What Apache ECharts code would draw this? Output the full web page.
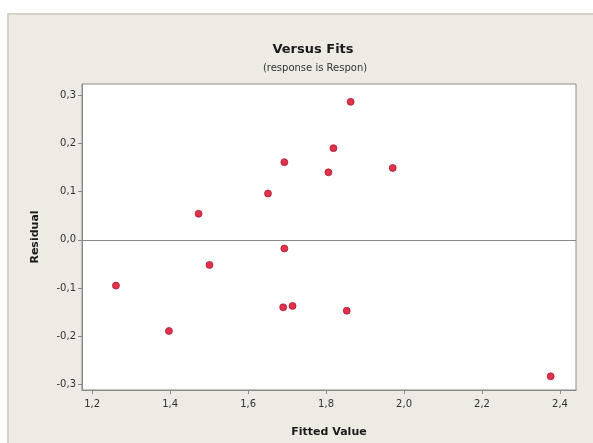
<!DOCTYPE html>
<html>
<head>
<meta charset="utf-8">
<script src="https://cdn.jsdelivr.net/npm/echarts@6/dist/echarts.min.js"></script>
<style>html,body{margin:0;padding:0;background:#fff}#c{width:593px;height:443px}</style>
</head>
<body>
<div id="c"></div>
<script>
// Data (fitted value, residual)
var fittedValues = [1.261, 1.397, 1.473, 1.501, 1.651, 1.693, 1.693, 1.690, 1.714, 1.806, 1.819, 1.863, 1.853, 1.971, 2.376];
var residuals    = [-0.095, -0.189, 0.054, -0.052, 0.096, 0.161, -0.018, -0.140, -0.137, 0.140, 0.190, 0.286, -0.147, 0.149, -0.283];
var xTicks = [1.2, 1.4, 1.6, 1.8, 2.0, 2.2, 2.4];
var yTicks = [-0.3, -0.2, -0.1, 0.0, 0.1, 0.2, 0.3];

var points = fittedValues.map(function (x, i) { return [x, residuals[i]]; });
function fmt(v) { return v.toFixed(1).replace('.', ','); }
var FONT = 'DejaVu Sans';

var chart = echarts.init(document.getElementById('c'), null, { renderer: 'canvas' });
chart.setOption({
  backgroundColor: '#ffffff',
  animation: false,
  graphic: [
    { type: 'rect', z: -10, silent: true, shape: { x: 8, y: 14, width: 600, height: 440 },
      style: { fill: '#EEEBE4', stroke: '#D6D2C9', lineWidth: 2 } }
  ],
  title: [
    { text: 'Versus Fits', left: 308, top: 38, textAlign: 'center',
      textStyle: { fontFamily: FONT, fontSize: 13, fontWeight: 'bold', color: '#1a1a1a' } },
    { text: '(response is Respon)', left: 310, top: 58, textAlign: 'center',
      textStyle: { fontFamily: FONT, fontSize: 10, fontWeight: 'normal', color: '#333' } }
  ],
  grid: { left: 82, right: 17, top: 84, bottom: 53, show: true, backgroundColor: '#ffffff', borderColor: '#8a8a8a', borderWidth: 1 },
  xAxis: {
    type: 'value', min: 1.174, max: 2.441,
    name: 'Fitted Value', nameLocation: 'middle', nameGap: 37,
    nameTextStyle: { fontFamily: FONT, fontSize: 11, fontWeight: 'bold', color: '#1a1a1a' },
    axisLine: { show: true, onZero: false, lineStyle: { color: '#8a8a8a' } },
    axisTick: { show: true, length: 4, customValues: xTicks, lineStyle: { color: '#8a8a8a' } },
    axisLabel: { customValues: xTicks, formatter: fmt, margin: 9, fontFamily: FONT, fontSize: 10, color: '#333' },
    splitLine: { show: false }
  },
  yAxis: {
    type: 'value', min: -0.3114, max: 0.323,
    name: 'Residual', nameLocation: 'middle', nameGap: 41, nameRotate: 90,
    nameTextStyle: { fontFamily: FONT, fontSize: 11, fontWeight: 'bold', color: '#1a1a1a' },
    axisLine: { show: true, onZero: false, lineStyle: { color: '#8a8a8a' } },
    axisTick: { show: true, length: 4, customValues: yTicks, lineStyle: { color: '#8a8a8a' } },
    axisLabel: { customValues: yTicks, formatter: fmt, margin: 6, fontFamily: FONT, fontSize: 10, color: '#333' },
    splitLine: { show: false }
  },
  series: [{
    type: 'scatter',
    data: points,
    symbol: 'circle', symbolSize: 7,
    itemStyle: { color: '#D8001E', borderColor: '#9A0A22', borderWidth: 0.8 },
    markLine: {
      silent: true, symbol: 'none', label: { show: false },
      lineStyle: { color: '#888', type: 'solid', width: 1 },
      data: [{ yAxis: 0 }]
    }
  }]
});
</script>
</body>
</html>
